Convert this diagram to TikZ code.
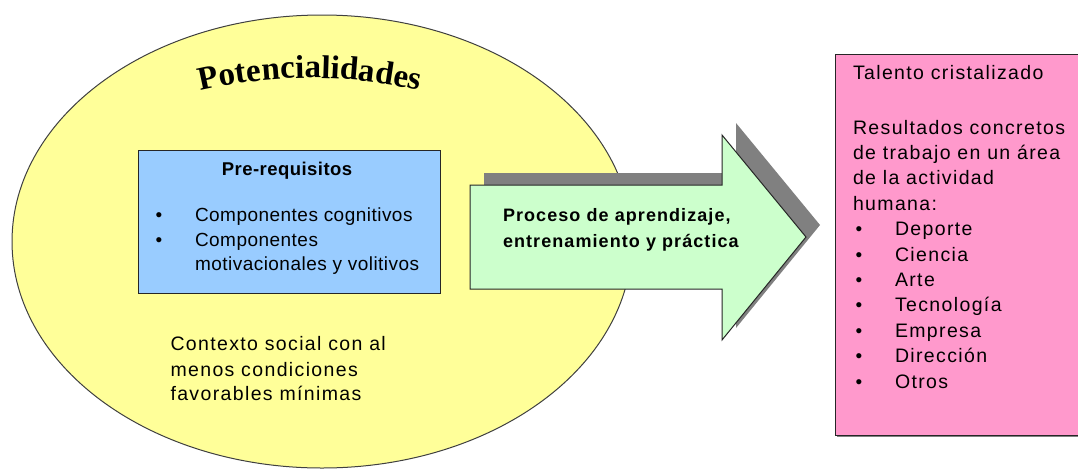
\documentclass[tikz,border=0pt]{standalone}
\usepackage{fontspec}
\setmainfont{Liberation Sans}
\newfontfamily\txtfont[LetterSpace=7]{Liberation Sans}
\newfontfamily\boldfont[LetterSpace=6]{Liberation Sans}
\newfontfamily\bluefont[LetterSpace=2.5]{Liberation Sans}
\newfontfamily\potfont[LetterSpace=2]{Liberation Serif}
\usetikzlibrary{shapes.geometric,decorations.text}
\definecolor{ellfill}{HTML}{FFFF99}
\definecolor{bluefill}{HTML}{99CCFF}
\definecolor{greenfill}{HTML}{CCFFCC}
\definecolor{pinkfill}{HTML}{FF99CC}
\definecolor{shadowgray}{HTML}{808080}
\begin{document}
\begin{tikzpicture}[x=1pt,y=-1pt,
  outline/.style={draw=black!85,line width=1pt},
  txtline/.style={inner sep=0pt,outer sep=0pt,anchor=base west,font=\txtfont\fontsize{19.5}{19.5}\selectfont},
  blueline/.style={inner sep=0pt,outer sep=0pt,anchor=base west,font=\bluefont\fontsize{19}{19}\selectfont},
  bulletmark/.style={inner sep=0pt,outer sep=0pt,anchor=base,font=\fontsize{19}{19}\selectfont},
  boldline/.style={inner sep=0pt,outer sep=0pt,anchor=base west,font=\boldfont\bfseries\fontsize{18}{18}\selectfont}]
\useasboundingbox (0,0) rectangle (1078,469);
\clip (0,0) rectangle (1078,469);
\fill[white] (0,0) rectangle (1078,469);
% ellipse
\node[ellipse,outline,draw=black!75,fill=ellfill,minimum width=620pt,minimum height=453pt,inner sep=0pt] (pot) at (322,241.5) {};
% title on arc
\path[decorate,decoration={text along path,text align=center,
  text={|\potfont\bfseries\fontsize{33}{33}\selectfont|Potencialidades}}]
  (180,96) .. controls (265,72) and (355,72) .. (440,96);
% blue box
\node[outline,fill=bluefill,minimum width=302pt,minimum height=143pt,inner sep=0pt] (pre) at (289,221.5) {};
\node[boldline,font=\bluefont\bfseries\fontsize{18.5}{18.5}\selectfont,anchor=base] (pret) at (287,175) {Pre-requisitos};
\node[bulletmark] (pb1) at (159,221.7) {•};
\node[bulletmark] (pb2) at (159,246) {•};
\node[blueline] (p1) at (195,221.7) {Componentes cognitivos};
\node[blueline] (p2) at (195,246) {Componentes};
\node[blueline] (p3) at (195,270.5) {motivacionales y volitivos};
% context text
\node[txtline] (c1) at (170.5,350.7) {Contexto social con al};
\node[txtline] (c2) at (170.5,376) {menos condiciones};
\node[txtline] (c3) at (170.5,400.5) {favorables mínimas};
% arrow shadow and arrow
\fill[shadowgray] (484,173) -- (736,173) -- (736,123) -- (820,225) -- (736,328) -- (736,277) -- (484,277) -- cycle;
\draw[outline,fill=greenfill,line join=miter] (470,185) -- (722,185) -- (722,135) -- (806,237) -- (722,340) -- (722,289) -- (470,289) -- cycle;
\node[boldline] (a1) at (503,221) {Proceso de aprendizaje,};
\node[boldline] (a2) at (503,247) {entrenamiento y práctica};
% pink box
\fill[shadowgray] (837,56) rectangle (1097,437);
\node[outline,fill=pinkfill,minimum width=260pt,minimum height=381pt,inner sep=0pt] (tal) at (965,244.5) {};
\node[txtline] (t0) at (853,79.3) {Talento cristalizado};
\node[txtline] (t1) at (853,134) {Resultados concretos};
\node[txtline] (t2) at (853,159.4) {de trabajo en un área};
\node[txtline] (t3) at (853,184.8) {de la actividad};
\node[txtline] (t4) at (853,210.2) {humana:};
\foreach \i/\w in {0/Deporte,1/Ciencia,2/Arte,3/Tecnología,4/Empresa,5/Dirección,6/Otros}{
  \node[bulletmark] (tb\i) at (859,235.6+25.4*\i) {•};
  \node[txtline] (tw\i) at (895,235.6+25.4*\i) {\w};
}
\end{tikzpicture}
\end{document}
